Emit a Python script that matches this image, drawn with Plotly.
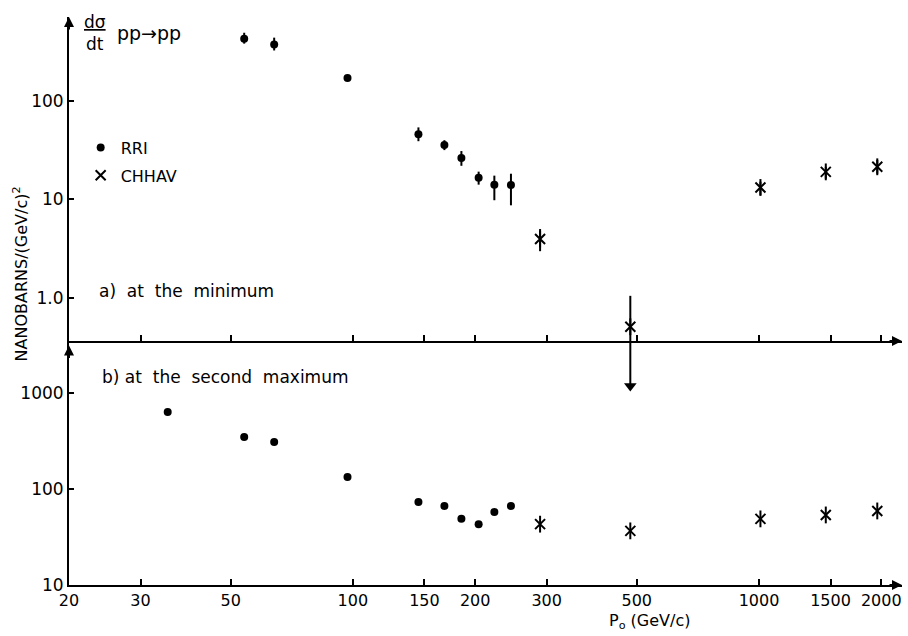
import plotly.graph_objects as go

# ---------------- data ----------------
p_ticks = [20, 30, 50, 100, 150, 200, 300, 500, 1000, 1500, 2000]
p_tick_text = ["20", "30", "50", "100", "150", "200", "300", "500", "1000", "1500", "2000"]

# panel a) at the minimum
rri_p = [54, 64, 97, 145, 168, 185, 204, 223, 245]
rri_min_val = [427, 372, 170, 45.7, 35.5, 26.3, 16.6, 14.1, 14.0]
rri_min_hi = [490, 437, 170, 53.7, 39.8, 30.9, 19.1, 17.4, 18.2]
rri_min_lo = [380, 324, 170, 38.9, 31.6, 21.9, 14.1, 9.8, 8.7]

chhav_p = [289, 482, 1008, 1460, 1955]
chhav_min_val = [3.96, 0.51, 13.2, 19.0, 21.4]
chhav_min_hi = [5.0, 1.05, 15.1, 21.4, 25.1]
chhav_min_lo = [2.98, 0.05, 11.0, 16.2, 18.2]   # 0.05: bar runs off the panel (limit arrow)

# continuation of the 500 GeV/c limit arrow into panel b
limit_p = [482, 482]
limit_y = [5000, 1180]

# panel b) at the second maximum
rri_max_p = [35, 54, 64, 97, 145, 168, 185, 204, 223, 245]
rri_max_val = [633, 348, 308, 133, 73, 66.5, 48.8, 43, 57.5, 66.5]
chhav_max_val = [43, 36.6, 48.8, 53.6, 59]

# ---------------- figure ----------------
BLACK = "black"
FONT = "DejaVu Sans"


def plus(val, hi):
    return [h - v for v, h in zip(val, hi)]


def minus(val, lo):
    return [v - l for v, l in zip(val, lo)]


fig = go.Figure()

# panel a
fig.add_trace(go.Scatter(
    x=rri_p, y=rri_min_val, mode="markers", name="RRI",
    legendgroup="rri", xaxis="x2", yaxis="y2",
    marker=dict(symbol="circle", size=8, color=BLACK),
    error_y=dict(type="data", symmetric=False,
                 array=plus(rri_min_val, rri_min_hi),
                 arrayminus=minus(rri_min_val, rri_min_lo),
                 color=BLACK, thickness=2, width=0),
))
fig.add_trace(go.Scatter(
    x=chhav_p, y=chhav_min_val, mode="markers", name="CHHAV",
    legendgroup="chhav", xaxis="x2", yaxis="y2",
    marker=dict(symbol="x-thin-open", size=10, color=BLACK,
                line=dict(width=2, color=BLACK)),
    error_y=dict(type="data", symmetric=False,
                 array=plus(chhav_min_val, chhav_min_hi),
                 arrayminus=minus(chhav_min_val, chhav_min_lo),
                 color=BLACK, thickness=2, width=0),
))
fig.add_trace(go.Scatter(
    x=chhav_p, y=chhav_min_val, mode="markers", showlegend=False,
    legendgroup="chhav", xaxis="x2", yaxis="y2", hoverinfo="skip",
    marker=dict(symbol="line-ns-open", size=12, color=BLACK,
                line=dict(width=2, color=BLACK)),
))

# limit arrow continuing into panel b
fig.add_trace(go.Scatter(
    x=limit_p, y=limit_y, mode="lines", showlegend=False,
    xaxis="x", yaxis="y", hoverinfo="skip",
    line=dict(color=BLACK, width=2),
))
fig.add_trace(go.Scatter(
    x=limit_p[-1:], y=limit_y[-1:], mode="markers", showlegend=False,
    xaxis="x", yaxis="y", hoverinfo="skip",
    marker=dict(symbol="triangle-down", size=11, color=BLACK,
                line=dict(width=0)),
))

# panel b
fig.add_trace(go.Scatter(
    x=rri_max_p, y=rri_max_val, mode="markers", showlegend=False,
    legendgroup="rri", xaxis="x", yaxis="y",
    marker=dict(symbol="circle", size=8, color=BLACK),
))
fig.add_trace(go.Scatter(
    x=chhav_p, y=chhav_max_val, mode="markers", showlegend=False,
    legendgroup="chhav", xaxis="x", yaxis="y",
    marker=dict(symbol="x-thin-open", size=10, color=BLACK,
                line=dict(width=2, color=BLACK)),
))
fig.add_trace(go.Scatter(
    x=chhav_p, y=chhav_max_val, mode="markers", showlegend=False,
    legendgroup="chhav", xaxis="x", yaxis="y", hoverinfo="skip",
    marker=dict(symbol="line-ns-open", size=12, color=BLACK,
                line=dict(width=2, color=BLACK)),
))

split = 244 / 568

xcommon = dict(
    type="log", range=[1.30103, 3.352],
    tickvals=p_ticks, ticktext=p_tick_text,
    ticks="inside", ticklen=6, tickwidth=1.5, tickcolor=BLACK,
    showline=True, linecolor=BLACK, linewidth=2,
    showgrid=False, zeroline=False,
)

fig.update_layout(
    width=908, height=636,
    margin=dict(l=69, r=6, t=17, b=51),
    paper_bgcolor="white", plot_bgcolor="white",
    font=dict(family=FONT, size=16, color=BLACK),
    showlegend=True,
    legend=dict(x=0.014, y=0.80, xanchor="left", yanchor="top",
                bgcolor="rgba(0,0,0,0)", font=dict(size=16, family=FONT),
                itemwidth=30, tracegroupgap=4),
    xaxis=dict(**xcommon, anchor="y", showticklabels=True,
               tickfont=dict(size=16, family=FONT)),
    xaxis2=dict(**xcommon, anchor="y2", matches="x", showticklabels=False),
    yaxis=dict(type="log", domain=[0, split], range=[1, 3.54],
               tickvals=[10, 100, 1000], ticktext=["10", "100", "1000"],
               ticks="inside", ticklen=5, tickwidth=1.5, tickcolor=BLACK,
               showline=True, linecolor=BLACK, linewidth=2,
               showgrid=False, zeroline=False, anchor="x",
               tickfont=dict(size=17, family=FONT)),
    yaxis2=dict(type="log", domain=[split, 1], range=[-0.437, 2.85],
                tickvals=[1, 10, 100], ticktext=["1.0", "10", "100"],
                ticks="inside", ticklen=5, tickwidth=1.5, tickcolor=BLACK,
                showline=True, linecolor=BLACK, linewidth=2,
                showgrid=False, zeroline=False, anchor="x2",
                tickfont=dict(size=17, family=FONT)),
)

ann = []
# axis arrowheads
for (x, y, ax, ay) in [(1, 0, -14, 0), (1, split, -14, 0), (0, 1, 0, 14), (0, split - 0.008, 0, 14)]:
    ann.append(dict(x=x, y=y, xref="paper", yref="paper", ax=ax, ay=ay,
                    text="", showarrow=True, arrowhead=2, arrowsize=1,
                    arrowwidth=2, arrowcolor=BLACK))

SP = "\u00a0\u00a0"
ann += [
    dict(x=0.031, y=0.972, xref="paper", yref="paper", xanchor="center", yanchor="middle",
         text="<u>dσ</u><br>dt", showarrow=False, font=dict(size=17), align="center"),
    dict(x=0.055, y=0.972, xref="paper", yref="paper", xanchor="left", yanchor="middle",
         text="pp→pp", showarrow=False, font=dict(size=19)),
    dict(x=0.034, y=0.518, xref="paper", yref="paper", xanchor="left", yanchor="middle",
         text="a)" + SP + "at" + SP + "the" + SP + "minimum", showarrow=False, font=dict(size=17)),
    dict(x=0.037, y=0.366, xref="paper", yref="paper", xanchor="left", yanchor="middle",
         text="b)\u00a0at" + SP + "the" + SP + "second" + SP + "maximum", showarrow=False,
         font=dict(size=17)),
    dict(x=-0.058, y=0.548, xref="paper", yref="paper", xanchor="center", yanchor="middle",
         text="NANOBARNS/(GeV/c)<sup>2</sup>", textangle=-90, showarrow=False, font=dict(size=16)),
    dict(x=0.697, y=-0.065, xref="paper", yref="paper", xanchor="center", yanchor="middle",
         text="P<sub>o</sub> (GeV/c)", showarrow=False, font=dict(size=16)),
]
fig.update_layout(annotations=ann)

fig.write_html("out.html")
